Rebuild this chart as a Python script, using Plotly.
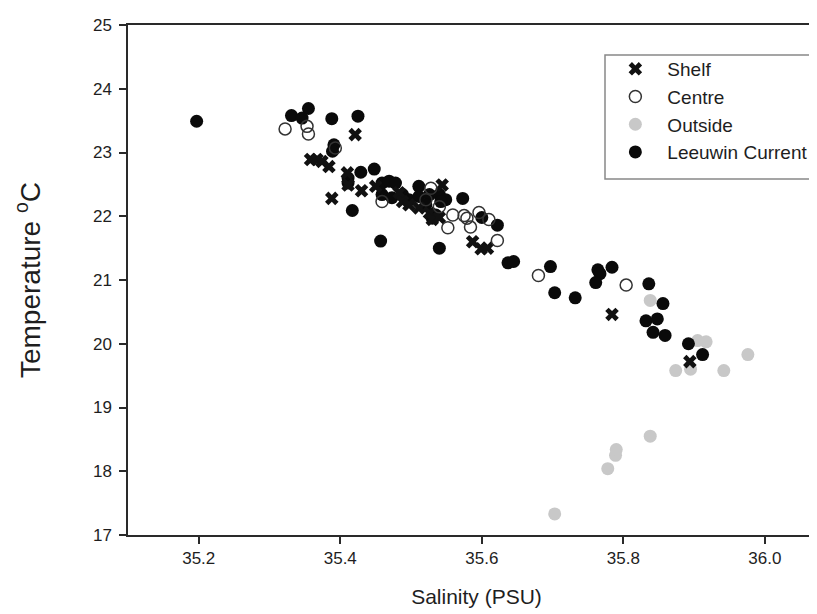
import plotly.graph_objects as go

# ---- data ----
shelf_sal = [35.421, 35.358, 35.367, 35.374, 35.384, 35.388, 35.410, 35.411, 35.430, 35.450,
             35.483, 35.488, 35.497, 35.511, 35.526, 35.530, 35.540, 35.544, 35.587, 35.599,
             35.608, 35.784, 35.894]
shelf_temp = [23.28, 22.89, 22.89, 22.86, 22.78, 22.28, 22.68, 22.49, 22.40, 22.47,
              22.37, 22.23, 22.18, 22.13, 22.05, 21.95, 21.98, 22.49, 21.60, 21.49,
              21.50, 20.46, 19.72]

centre_sal = [35.322, 35.353, 35.355, 35.393, 35.459, 35.528, 35.521, 35.540, 35.559, 35.552,
              35.575, 35.579, 35.584, 35.596, 35.610, 35.622, 35.680, 35.804]
centre_temp = [23.37, 23.41, 23.29, 23.07, 22.23, 22.44, 22.26, 22.15, 22.02, 21.82,
               22.01, 21.97, 21.83, 22.06, 21.95, 21.62, 21.07, 20.92]

outside_sal = [35.838, 35.905, 35.917, 35.895, 35.874, 35.942, 35.976, 35.838, 35.789, 35.790,
               35.778, 35.703]
outside_temp = [20.68, 20.05, 20.03, 19.60, 19.58, 19.58, 19.83, 18.55, 18.25, 18.34,
                18.04, 17.33]

lc_sal = [35.197, 35.331, 35.355, 35.346, 35.388, 35.425, 35.391, 35.389, 35.411, 35.411,
          35.429, 35.448, 35.417, 35.457, 35.459, 35.469, 35.478, 35.459, 35.473, 35.488,
          35.497, 35.511, 35.511, 35.526, 35.540, 35.549, 35.542, 35.521, 35.535, 35.530,
          35.540, 35.573, 35.600, 35.622, 35.637, 35.645, 35.697, 35.703, 35.732, 35.764,
          35.767, 35.761, 35.784, 35.836, 35.856, 35.832, 35.848, 35.842, 35.859, 35.892,
          35.912]
lc_temp = [23.49, 23.58, 23.69, 23.54, 23.53, 23.57, 23.12, 23.02, 22.60, 22.52,
           22.69, 22.74, 22.09, 21.61, 22.52, 22.55, 22.52, 22.34, 22.29, 22.34,
           22.26, 22.47, 22.31, 22.34, 22.34, 22.26, 22.23, 22.18, 22.02, 21.97,
           21.50, 22.28, 21.98, 21.86, 21.27, 21.29, 21.21, 20.80, 20.72, 21.16,
           21.10, 20.96, 21.20, 20.94, 20.63, 20.36, 20.39, 20.18, 20.13, 20.00,
           19.83]

x_ticks = [35.2, 35.4, 35.6, 35.8, 36.0]
x_tick_labels = ["35.2", "35.4", "35.6", "35.8", "36.0"]
y_ticks = [17, 18, 19, 20, 21, 22, 23, 24, 25]

FONT = "Liberation Sans, Arial, sans-serif"
TXT = "#1e1e1e"

fig = go.Figure()
fig.add_trace(go.Scatter(x=outside_sal, y=outside_temp, mode="markers", name="Outside",
                         legendrank=3,
                         marker=dict(symbol="circle", size=13, color="#c8c8c8", line=dict(width=0))))
fig.add_trace(go.Scatter(x=lc_sal, y=lc_temp, mode="markers", name="Leeuwin Current",
                         legendrank=4,
                         marker=dict(symbol="circle", size=13, color="#0a0a0a", line=dict(width=0))))
fig.add_trace(go.Scatter(x=shelf_sal, y=shelf_temp, mode="markers", name="Shelf",
                         legendrank=1,
                         marker=dict(symbol="x", size=12, color="#111111", line=dict(width=0))))
fig.add_trace(go.Scatter(x=centre_sal, y=centre_temp, mode="markers", name="Centre",
                         legendrank=2,
                         marker=dict(symbol="circle-open", size=12, color="#333333",
                                     line=dict(width=1.5, color="#333333"))))

fig.update_layout(
    width=817, height=614,
    margin=dict(l=120, r=0, t=17, b=87, autoexpand=False),
    paper_bgcolor="white", plot_bgcolor="white",
    font=dict(family=FONT, size=16, color=TXT),
    showlegend=True,
    legend=dict(x=0.682, y=0.951, xanchor="left", yanchor="top",
                bgcolor="rgba(0,0,0,0)", borderwidth=0,
                font=dict(family=FONT, size=19, color=TXT),
                itemwidth=54, traceorder="normal"),
    shapes=[dict(type="rect", xref="paper", yref="paper",
                 x0=(597 - 120) / 697, x1=1.05, y0=(527 - 171) / 510, y1=(527 - 47) / 510,
                 line=dict(color="#888888", width=1.5), fillcolor="rgba(0,0,0,0)")],
)

fig.update_xaxes(range=[35.1, 36.085], tickvals=x_ticks, ticktext=x_tick_labels,
                 showgrid=False, zeroline=False, showline=True, linecolor="#2a2a2a",
                 linewidth=1.5, mirror=True, ticks="outside", ticklen=7, tickwidth=1.5,
                 tickcolor="#2a2a2a", tickfont=dict(size=17, color=TXT),
                 ticklabelstandoff=0,
                 title=dict(text="Salinity (PSU)", font=dict(size=21, color=TXT),
                            standoff=22))
fig.update_yaxes(range=[17, 25], tickvals=y_ticks,
                 showgrid=False, zeroline=False, showline=True, linecolor="#2a2a2a",
                 linewidth=1.5, mirror=False, ticks="outside", ticklen=7, tickwidth=1.5,
                 tickcolor="#2a2a2a", tickfont=dict(size=17, color=TXT),
                 ticklabelstandoff=4,
                 title=dict(text="Temperature <sup>o</sup>C", font=dict(size=28, color=TXT),
                            standoff=44))

fig.write_html("out.html")
